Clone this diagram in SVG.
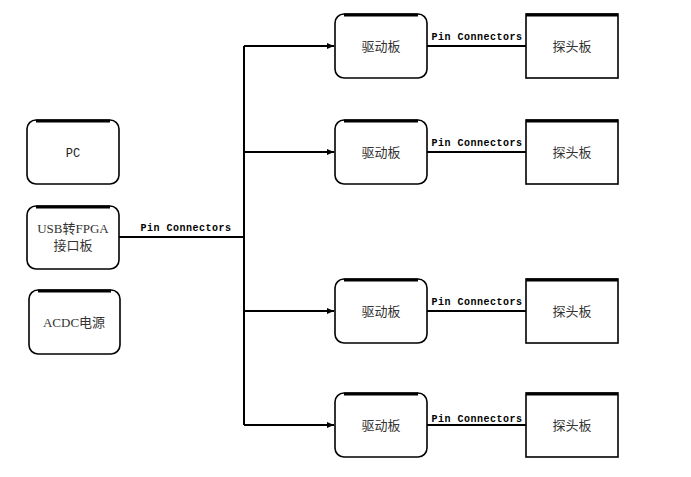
<svg xmlns="http://www.w3.org/2000/svg" width="691" height="477" viewBox="0 0 691 477">
<style>
.box{fill:#fff;stroke:#000;stroke-width:1.6}
.top{stroke:#000;stroke-width:3;fill:none}
.t{font-family:"Liberation Mono","Noto Sans CJK SC",monospace;font-size:12px;fill:#222;text-anchor:middle}
.c{font-family:"Liberation Serif","Noto Sans CJK SC",serif;font-size:13px;fill:#333;text-anchor:middle}
.pin{font-family:"Liberation Mono",monospace;font-size:10px;font-weight:bold;fill:#000;text-anchor:middle;letter-spacing:0.5px}
.ln{stroke:#000;stroke-width:2;fill:none}
</style>
<defs>
<marker id="arr" markerWidth="8" markerHeight="8" refX="7" refY="4" orient="auto" markerUnits="userSpaceOnUse">
<path d="M0,1 L7,4 L0,7 Z" fill="#000"/>
</marker>
</defs>
<g id="connectors">
<path class="ln" d="M119,237 H244"/>
<path class="ln" d="M244,46 V425"/>
<path class="ln" d="M244,46 H334" marker-end="url(#arr)"/>
<path class="ln" d="M244,152 H334" marker-end="url(#arr)"/>
<path class="ln" d="M244,311 H334" marker-end="url(#arr)"/>
<path class="ln" d="M244,425 H334" marker-end="url(#arr)"/>
<path class="ln" d="M427,46 H526"/>
<path class="ln" d="M427,152 H526"/>
<path class="ln" d="M427,311 H526"/>
<path class="ln" d="M427,425 H526"/>
<text class="pin" x="186" y="231">Pin Connectors</text>
<text class="pin" x="477" y="40">Pin Connectors</text>
<text class="pin" x="477" y="146">Pin Connectors</text>
<text class="pin" x="477" y="305">Pin Connectors</text>
<text class="pin" x="477" y="422">Pin Connectors</text>
</g>
<g id="pc">
<rect class="box" x="27" y="120" width="92" height="64" rx="9"/>
<path class="top" d="M36,121 H110"/>
<text class="t" x="73" y="157">PC</text>
</g>
<g id="usb">
<rect class="box" x="27" y="206" width="92" height="63" rx="9"/>
<path class="top" d="M36,207 H110"/>
<text class="c" x="73" y="233">USB转FPGA</text>
<text class="c" x="73" y="250">接口板</text>
</g>
<g id="acdc">
<rect class="box" x="29" y="290" width="91" height="64" rx="9"/>
<path class="top" d="M38,291 H111"/>
<text class="c" x="74" y="327">ACDC电源</text>
</g>
<g id="drv1"><rect class="box" x="335" y="14" width="92" height="64" rx="9"/><path class="top" d="M344,15 H418"/><text class="c" x="381" y="51">驱动板</text></g>
<g id="drv2"><rect class="box" x="335" y="120" width="92" height="64" rx="9"/><path class="top" d="M344,121 H418"/><text class="c" x="381" y="157">驱动板</text></g>
<g id="drv3"><rect class="box" x="335" y="279" width="92" height="64" rx="9"/><path class="top" d="M344,280 H418"/><text class="c" x="381" y="316">驱动板</text></g>
<g id="drv4"><rect class="box" x="335" y="393" width="92" height="64" rx="9"/><path class="top" d="M344,394 H418"/><text class="c" x="381" y="430">驱动板</text></g>
<g id="probe1"><rect class="box" x="526" y="14" width="92" height="64"/><path class="top" d="M526,15 H618"/><text class="c" x="572" y="51">探头板</text></g>
<g id="probe2"><rect class="box" x="526" y="120" width="92" height="64"/><path class="top" d="M526,121 H618"/><text class="c" x="572" y="157">探头板</text></g>
<g id="probe3"><rect class="box" x="526" y="279" width="92" height="64"/><path class="top" d="M526,280 H618"/><text class="c" x="572" y="316">探头板</text></g>
<g id="probe4"><rect class="box" x="526" y="393" width="92" height="64"/><path class="top" d="M526,394 H618"/><text class="c" x="572" y="430">探头板</text></g>
</svg>
